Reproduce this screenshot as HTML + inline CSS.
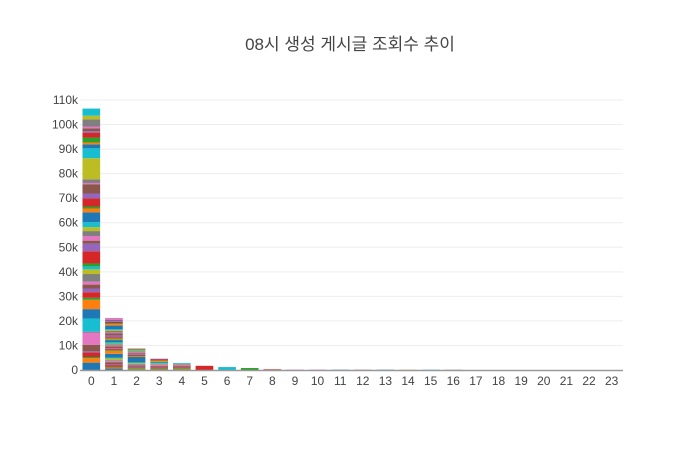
<!DOCTYPE html>
<html><head><meta charset="utf-8"><style>
body{margin:0;background:#fff;}
svg text{font-family:"Liberation Sans","Noto Sans CJK KR",sans-serif;}
</style></head><body>
<svg id="chart" width="700" height="450" xmlns="http://www.w3.org/2000/svg">
<rect width="700" height="450" fill="#fff"/>
<text x="350" y="50" text-anchor="middle" font-size="17" fill="#444">08시 생성 게시글 조회수 추이</text>
<g id="grid"></g><g id="bars"></g><g id="axes"></g>
</svg>
<script>
const categories = ["0","1","2","3","4","5","6","7","8","9","10","11","12","13","14","15","16","17","18","19","20","21","22","23"];
const yTicks = [0,10000,20000,30000,40000,50000,60000,70000,80000,90000,100000,110000];
const yTickLabels = ["0","10k","20k","30k","40k","50k","60k","70k","80k","90k","100k","110k"];
const bar0 = [3000,1800,500,1800,500,2700,5000,300,5400,3800,3800,800,2300,1500,1600,1200,3100,1900,1200,1200,5000,3100,1200,1900,2000,1600,2000,4000,1600,800,3300,2000,3800,500,1500,8600,4000,1600,800,2000,2000,600,1100,800,2900,1500,2900];
const bar0Colors = ["b","o","g","r","p","br","pk","gy","c","b","o","g","r","p","br","pk","gy","ol","c","g","r","p","br","pk","gy","ol","c","b","o","g","r","p","br","pk","gy","ol","c","b","o","g","r","p","br","pk","gy","ol","c"];
const bar1 = [600,400,300,700,300,900,500,300,700,400,1500,1300,300,400,300,700,400,500,300,600,800,500,400,300,700,900,300,600,400,300,1500,600,400,500,600,300,700];
const bar2 = [300,200,400,300,200,500,300,200,400,300,2200,400,300,200,400,300,500,200,300,400,300,200];
const bar3 = [200,300,200,400,300,200,500,300,200,400,300,500,300,200,300];
const bar4 = [300,200,400,200,300,200,500,200,300,200];
const singleBars = [[1700],[1200],[800],[300],[150],[150],[120],[100],[120],[100],[120],[100],[0],[0],[0],[0],[0],[0],[0]];
const series = [bar0,bar1,bar2,bar3,bar4].concat(singleBars);
const palette = ["#1f77b4","#ff7f0e","#2ca02c","#d62728","#9467bd","#8c564b","#e377c2","#7f7f7f","#bcbd22","#17becf"];
const colorMap = {b:"#1f77b4",o:"#ff7f0e",g:"#2ca02c",r:"#d62728",p:"#9467bd",br:"#8c564b",pk:"#e377c2",gy:"#7f7f7f",ol:"#bcbd22",c:"#17becf"};
const singleColors = ["#d62728","#17becf","#2ca02c","#d62728","#e377c2","#e377c2","#1f77b4","#8c564b","#1f77b4","#bcbd22","#17becf","#7f7f7f"];
const NS="http://www.w3.org/2000/svg";
const x0=80,x1=623,yBase=370,yTop=100,yMax=110000;
const step=(x1-x0)/categories.length;
const xPos=i=>x0+step*(i+0.5);
const yPos=v=>yBase-(v/yMax)*(yBase-yTop);
const grid=document.getElementById('grid'),bars=document.getElementById('bars'),axes=document.getElementById('axes');
yTicks.forEach((t,i)=>{
  if(i>0){const l=document.createElementNS(NS,'line');
  l.setAttribute('x1',x0);l.setAttribute('x2',x1);l.setAttribute('y1',yPos(t));l.setAttribute('y2',yPos(t));l.setAttribute('stroke','#eee');
  
  
  grid.appendChild(l);}
  const tx=document.createElementNS(NS,'text');
  tx.setAttribute('x',x0-2);tx.setAttribute('y',yPos(t)+4);tx.setAttribute('text-anchor','end');tx.setAttribute('font-size','12');tx.setAttribute('fill','#444');
  tx.textContent=yTickLabels[i];
  
  
  axes.appendChild(tx);
});
const bw=step*0.78;
series.forEach((segs,i)=>{
  let acc=0;
  segs.forEach((v,j)=>{
    if(v<=0)return;
    const r=document.createElementNS(NS,'rect');
    r.setAttribute('x',xPos(i)-bw/2);r.setAttribute('width',bw);
    r.setAttribute('y',yPos(acc+v));r.setAttribute('height',Math.max(yPos(acc)-yPos(acc+v),0.8));
    let col = i===0 ? colorMap[bar0Colors[j]] : (i>=5 ? singleColors[i-5] : palette[j%10]);
    r.setAttribute('fill',col);
    
    
    bars.appendChild(r);acc+=v;
  });
});
const ax=document.createElementNS(NS,'line');
ax.setAttribute('x1',x0);ax.setAttribute('x2',x1);ax.setAttribute('y1',yBase+0.5);ax.setAttribute('y2',yBase+0.5);ax.setAttribute('stroke','#999');ax.setAttribute('stroke-width','1.5');


axes.appendChild(ax);
categories.forEach((c,i)=>{
  const tx=document.createElementNS(NS,'text');
  tx.setAttribute('x',xPos(i));tx.setAttribute('y',yBase+15);tx.setAttribute('text-anchor','middle');tx.setAttribute('font-size','12');tx.setAttribute('fill','#444');
  tx.textContent=c;
  
  
  axes.appendChild(tx);
});
</script>
</body></html>
